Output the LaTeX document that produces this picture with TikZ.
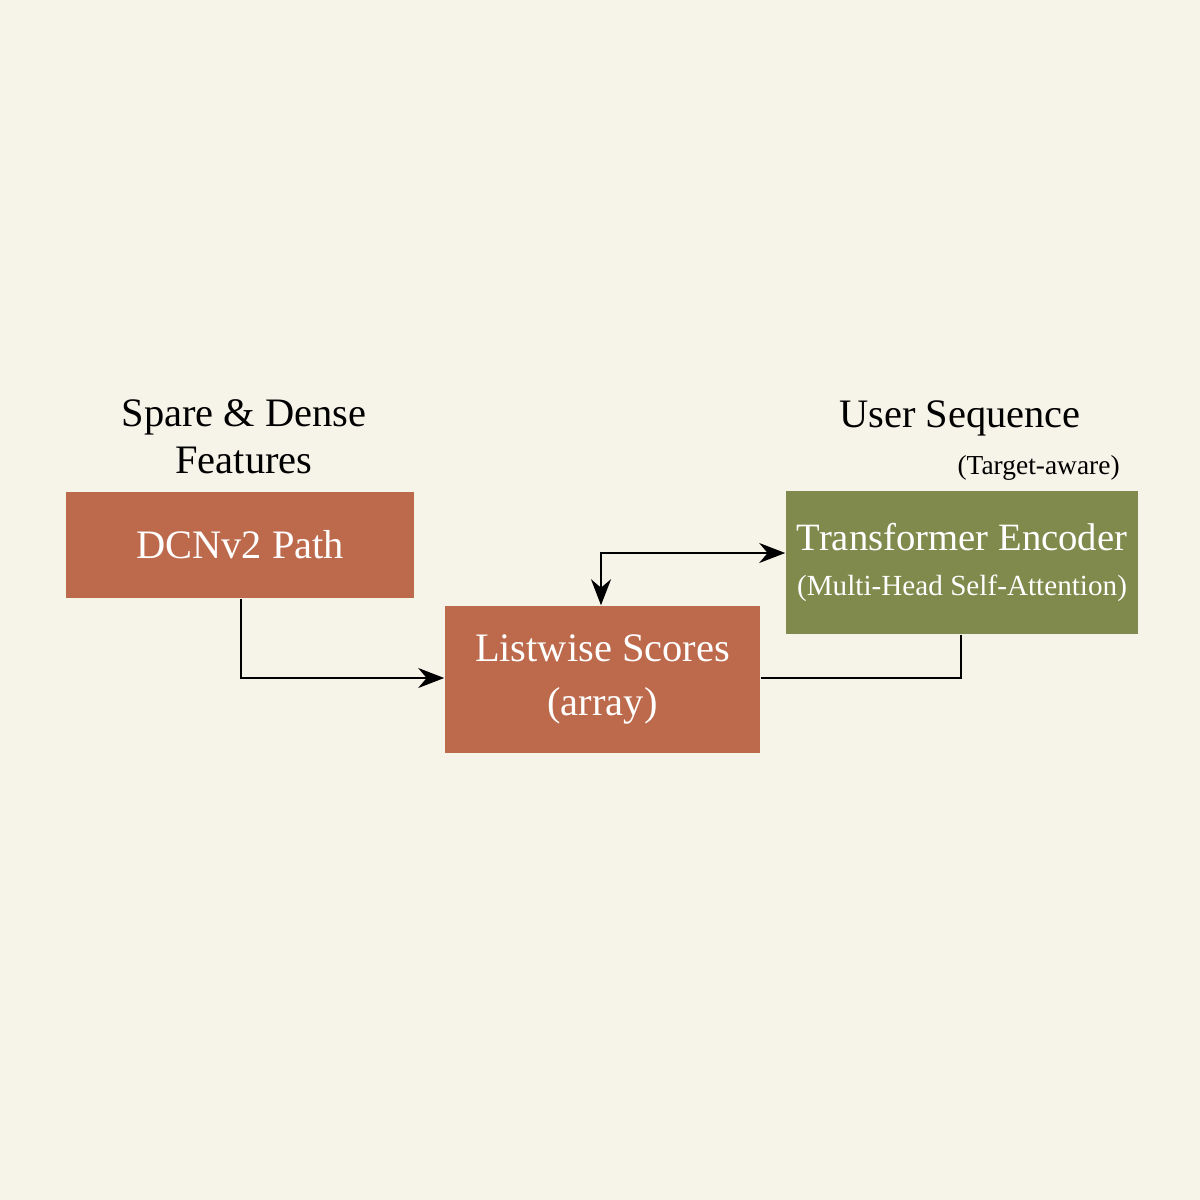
\documentclass[tikz,border=0pt]{standalone}
\usepackage{fontspec}
\setmainfont{Liberation Serif}
\usetikzlibrary{arrows.meta}
\definecolor{bg}{HTML}{F6F3E8}
\definecolor{rust}{HTML}{BD6A4C}
\definecolor{olive}{HTML}{7F8A4C}
\tikzset{
  box/.style={draw=none, text=white, align=center, inner sep=0pt},
  lbl/.style={text=black, align=center, font=\fontsize{11.5}{13.5}\selectfont},
  conn/.style={draw=black, line width=0.6pt, -{Stealth[length=2.6mm,width=2mm]}},
  plain/.style={draw=black, line width=0.6pt}
}
\begin{document}
\begin{tikzpicture}[x=0.01cm,y=-0.01cm]
\fill[bg] (0,0) rectangle (1200,1200);
\useasboundingbox (0,0) rectangle (1200,1200);
\node[box, fill=rust, minimum width=3.48cm, minimum height=1.06cm, font=\fontsize{11.5}{13}\selectfont] (dcn) at (240,545) {DCNv2 Path};
\node[box, fill=rust, minimum width=3.15cm, minimum height=1.47cm, font=\fontsize{11.5}{15.5}\selectfont] (list) at (602.5,679.5) {Listwise Scores\\(array)};
\node[box, fill=olive, minimum width=3.52cm, minimum height=1.43cm] (tr) at (962,562.5) {\fontsize{11}{13}\selectfont Transformer Encoder\\[1pt]\fontsize{8.3}{10}\selectfont (Multi-Head Self-Attention)};
\node[lbl] (feat) at (244,437) {Spare \& Dense\\Features};
\node[lbl] (useq) at (960,418) {User Sequence};
\node[text=black, anchor=east, font=\fontsize{7.8}{9}\selectfont] (tgt) at (1132,468) {(Target-aware)};
\coordinate (c1) at (241,678);
\coordinate (c2) at (961,678);
\coordinate (c3) at (601,553);
\draw[conn] (dcn.south -| c1) -- (c1) -- (list.west |- c1);
\draw[plain] (tr.south -| c2) -- (c2) -- (list.east |- c2);
\draw[conn, {Stealth[length=2.6mm,width=2mm]}-{Stealth[length=2.6mm,width=2mm]}] (list.north -| c3) -- (c3) -- (tr.west |- c3);
\end{tikzpicture}
\end{document}
